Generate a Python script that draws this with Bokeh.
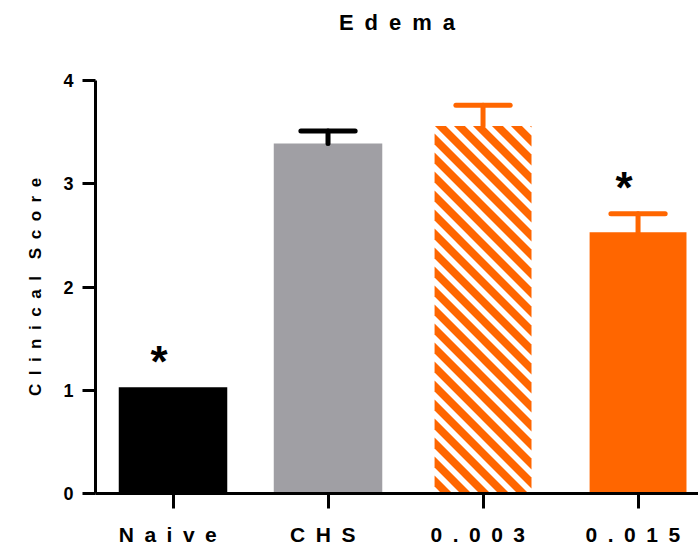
from bokeh.plotting import figure
from bokeh.models import Range1d, FixedTicker, Title
from bokeh.core.properties import value
from bokeh.embed import file_html
from bokeh.resources import INLINE

# ---- data ----
categories = ["Naive", "CHS", "0.003", "0.015"]
tick_labels = ["N\u2002a\u2002i\u2002v\u2002e\u2002", "C\u2002H\u2002S\u2002",
               "0\u2002.\u20020\u20020\u20023\u2002", "0\u2002.\u20020\u20021\u20025\u2002"]
means = [1.03, 3.39, 3.56, 2.53]
sems = [0.0, 0.12, 0.20, 0.18]
stars = ["*", "", "", "*"]
striped = [False, False, True, False]
title_text = "E\u2002d\u2002e\u2002m\u2002a"
y_label = "C\u2002l\u2002i\u2002n\u2002i\u2002c\u2002a\u2002l\u2002\u2002S\u2002c\u2002o\u2002r\u2002e"

# ---- styles ----
FONT = "Liberation Sans"
ORANGE = "#FF6600"
fill_colors = ["#000000", "#A09FA4", "#FFFFFF", ORANGE]
bar_widths = [0.70, 0.70, 0.625, 0.625]
err_colors = ["#000000", "#000000", ORANGE, ORANGE]

W, H = 698, 550
BL, BR, BT, BB = 95, 0, 80, 57
x_end = 3.89
y_end = 4.0
xs = [i + 0.5 for i in range(len(categories))]

p = figure(width=W, height=H, x_range=Range1d(0, x_end), y_range=Range1d(0, y_end),
           min_border_left=BL, min_border_right=BR, min_border_top=BT, min_border_bottom=BB,
           output_backend="svg", toolbar_location=None)
p.outline_line_color = None
p.grid.visible = False
p.background_fill_color = "white"
p.border_fill_color = "white"
p.title.text = ""

# spacer (closest to frame) then the visible title
p.add_layout(Title(text=" ", text_font_size="2px", standoff=42), "above")
p.add_layout(Title(text=title_text, align="center", text_font=FONT, text_font_size="22px",
                   text_font_style="bold", text_color="black", standoff=0,
                   vertical_align="bottom"), "above")

p.vbar(x=xs, top=means, bottom=0, width=bar_widths, fill_color=fill_colors, line_color=None)

# diagonal stripes ("\" direction, 45 degrees on screen) for the striped bar
kx = (W - BL - BR) / x_end   # px per x unit
ky = (H - BT - BB) / y_end   # px per y unit
PERIOD, STRIPE = 19.0, 11.0  # horizontal period / orange width, px


def clip(poly, a, b, c):
    out = []
    n = len(poly)
    for i in range(n):
        P, Q = poly[i], poly[(i + 1) % n]
        fp = a * P[0] + b * P[1] - c
        fq = a * Q[0] + b * Q[1] - c
        if fp <= 0:
            out.append(P)
        if fp * fq < 0:
            t = fp / (fp - fq)
            out.append((P[0] + t * (Q[0] - P[0]), P[1] + t * (Q[1] - P[1])))
    return out


sxs, sys = [], []
for x, m, w, s in zip(xs, means, bar_widths, striped):
    if not s:
        continue
    u0, u1 = (x - w / 2) * kx, (x + w / 2) * kx
    v0, v1 = 0.0, m * ky
    rect = [(u0, v0), (u1, v0), (u1, v1), (u0, v1)]
    smin, smax = u0 + v0, u1 + v1
    k = int(smin // PERIOD) - 1
    while k * PERIOD < smax:
        c0 = k * PERIOD + 4
        poly = clip(rect, -1, -1, -c0)          # u+v >= c0
        poly = clip(poly, 1, 1, c0 + STRIPE)     # u+v <= c0+STRIPE
        if len(poly) >= 3:
            sxs.append([q[0] / kx for q in poly])
            sys.append([q[1] / ky for q in poly])
        k += 1
p.patches(xs=sxs, ys=sys, fill_color=ORANGE, line_color=None)

# error bars (upper only, where sem > 0)
ex = [x for x, s in zip(xs, sems) if s > 0]
em = [m for m, s in zip(means, sems) if s > 0]
et = [m + s for m, s in zip(means, sems) if s > 0]
ec = [c for c, s in zip(err_colors, sems) if s > 0]
cap = 0.175
p.segment(x0=ex, y0=em, x1=ex, y1=et, line_color=ec, line_width=5, line_cap="round")
p.segment(x0=[x - cap for x in ex], y0=et, x1=[x + cap for x in ex], y1=et,
          line_color=ec, line_width=5, line_cap="round")

# significance stars
stx = [x for x, s in zip(xs, stars) if s]
sty = [m + e for m, e, s in zip(means, sems, stars) if s]
stt = [s for s in stars if s]
p.text(x=stx, y=sty, text=stt, x_offset=-14, y_offset=-26, text_align="center",
       text_baseline="alphabetic", text_font=value(FONT), text_font_style="bold",
       text_font_size="44px", text_color="black")

# axes
xa = p.xaxis[0]
xa.ticker = FixedTicker(ticks=xs)
xa.major_label_overrides = {x: t for x, t in zip(xs, tick_labels)}
xa.major_label_text_font = FONT
xa.major_label_text_font_size = "21px"
xa.major_label_text_font_style = "bold"
xa.major_label_text_color = "black"
xa.major_label_standoff = 14
xa.axis_line_width = 3
xa.axis_line_color = "black"
xa.major_tick_line_width = 3
xa.major_tick_line_color = "black"
xa.major_tick_out = 15
xa.major_tick_in = 0
xa.minor_tick_line_color = None

ya = p.yaxis[0]
ya.ticker = FixedTicker(ticks=[0, 1, 2, 3, 4])
ya.major_label_text_font = FONT
ya.major_label_text_font_size = "18px"
ya.major_label_text_font_style = "bold"
ya.major_label_text_color = "black"
ya.major_label_standoff = 9
ya.axis_line_width = 3
ya.axis_line_color = "black"
ya.major_tick_line_width = 3
ya.major_tick_line_color = "black"
ya.major_tick_out = 13
ya.major_tick_in = 0
ya.minor_tick_line_color = None
ya.axis_label = y_label
ya.axis_label_text_font = FONT
ya.axis_label_text_font_size = "17px"
ya.axis_label_text_font_style = "bold"
ya.axis_label_text_color = "black"
ya.axis_label_standoff = 15

open("out.html", "w").write(file_html(p, INLINE))
